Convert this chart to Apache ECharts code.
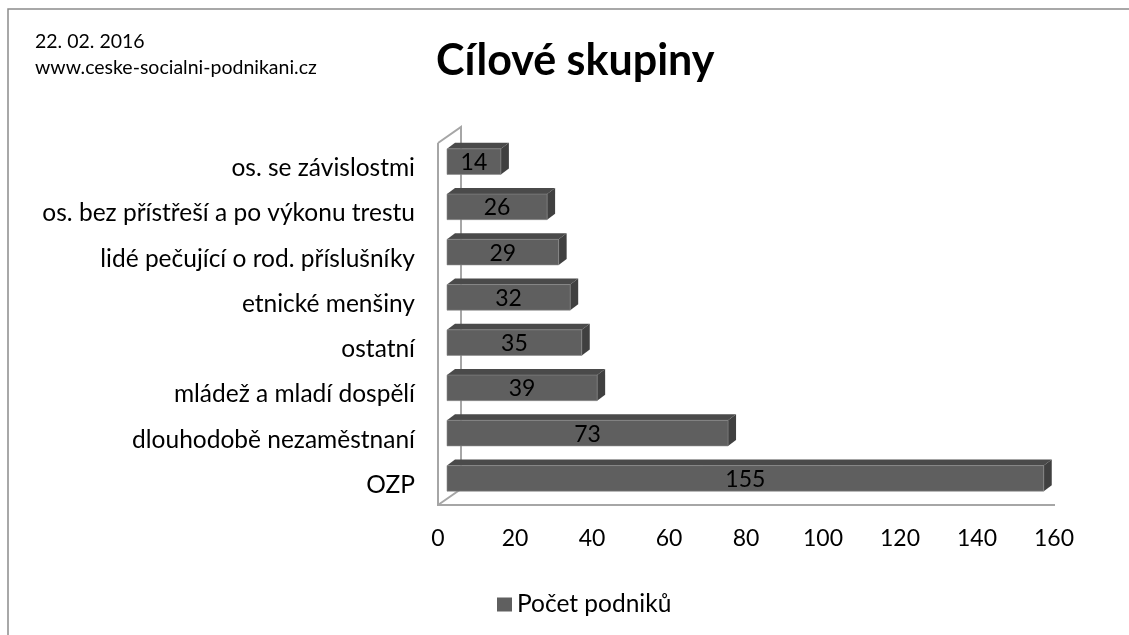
<!DOCTYPE html>
<html>
<head>
<meta charset="utf-8">
<script src="https://cdn.jsdelivr.net/npm/echarts@6/dist/echarts.min.js"></script>
<style>
  html, body { margin: 0; padding: 0; background: #fff; }
  #chart { width: 1129px; height: 635px; }
</style>
</head>
<body>
<div id="chart"></div>
<script>
// data
const categories = [
  "os. se závislostmi",
  "os. bez přístřeší a po výkonu trestu",
  "lidé pečující o rod. příslušníky",
  "etnické menšiny",
  "ostatní",
  "mládež a mladí dospělí",
  "dlouhodobě nezaměstnaní",
  "OZP"
];
const counts = [14, 26, 29, 32, 35, 39, 73, 155];
const xTicks = { min: 0, max: 160, interval: 20 };
const seriesName = "Počet podniků";

const FONT = "Lato, 'Open Sans', sans-serif";
const DX = 8, DY = -6;   // 3d depth of the bars

const chart = echarts.init(document.getElementById("chart"));

function renderWall(params, api) {
  const cs = params.coordSys;
  const x = cs.x, top = cs.y + 4, bot = cs.y + cs.height + 4;
  const wx = 23, wy = -16;
  const style = { stroke: "#a6a6a6", lineWidth: 2, fill: null };
  return {
    type: "group",
    children: [
      { type: "polyline", shape: { points: [[x, top], [x, bot], [x + cs.width + 1, bot]] }, style },
      { type: "polyline", shape: { points: [[x, top], [x + wx, top + wy], [x + wx, bot + wy], [x, bot]] }, style }
    ]
  };
}

function renderBar(params, api) {
  const v = api.value(0), cat = api.value(1);
  const p0 = api.coord([0, cat]);
  const p1 = api.coord([v, cat]);
  const h = api.size([0, 1])[1] * 0.565;
  const x0 = p0[0] + 9, x1 = p1[0] + 9;
  const y0 = p0[1] - h / 2, y1 = y0 + h;
  return {
    type: "group",
    children: [
      { type: "polygon", shape: { points: [[x0, y0], [x0 + DX, y0 + DY], [x1 + DX, y0 + DY], [x1, y0]] },
        style: { fill: "#4a4a4a" } },
      { type: "polygon", shape: { points: [[x1, y0], [x1 + DX, y0 + DY], [x1 + DX, y1 + DY], [x1, y1]] },
        style: { fill: "#404040" } },
      { type: "rect", shape: { x: x0, y: y0, width: x1 - x0, height: h },
        style: { fill: "#5f5f5f", stroke: "#8a8a8a", lineWidth: 0.6 } },
      { type: "text", x: (x0 + x1) / 2, y: (y0 + y1) / 2 + 1,
        style: { text: String(v), fill: "#000", font: "23px " + FONT, align: "center", verticalAlign: "middle" } }
    ]
  };
}

chart.setOption({
  backgroundColor: "#fff",
  animation: false,
  grid: { left: 438, right: 75, top: 139, height: 362 },
  title: {
    text: "Cílové skupiny",
    left: 431, top: 35,
    textStyle: { fontFamily: FONT, fontSize: 43, fontWeight: "bold", color: "#000" }
  },
  graphic: [
    { type: "polyline", shape: { points: [[8, 640], [8, 9], [1130, 9]] }, style: { stroke: "#8c8c8c", lineWidth: 1.5, fill: null } },
    { type: "text", left: 35, top: 32, style: { text: "22. 02. 2016", font: "19.5px " + FONT, fill: "#000" } },
    { type: "text", left: 35, top: 58, style: { text: "www.ceske-socialni-podnikani.cz", font: "19.5px " + FONT, fill: "#000" } }
  ],
  legend: {
    data: [{ name: seriesName, icon: "rect", itemStyle: { color: "#5f5f5f" } }],
    left: 492, top: 587,
    itemWidth: 15, itemHeight: 14, itemGap: 5,
    textStyle: { fontFamily: FONT, fontSize: 24.5, color: "#000" }
  },
  xAxis: {
    type: "value",
    min: xTicks.min, max: xTicks.max, interval: xTicks.interval,
    axisLine: { show: false }, axisTick: { show: false }, splitLine: { show: false },
    axisLabel: { fontFamily: FONT, fontSize: 23, color: "#000", margin: 26 }
  },
  yAxis: {
    type: "category", data: categories, inverse: true,
    axisLine: { show: false }, axisTick: { show: false },
    axisLabel: {
      margin: 23,
      formatter: "{c|{value}}",
      rich: { c: { fontFamily: FONT, fontSize: 24.5, color: "#000", padding: [13, 0, 0, 0] } }
    }
  },
  series: [
    { type: "custom", name: "wall", silent: true, renderItem: renderWall, data: [[0, 0]], z: 1 },
    {
      type: "custom", name: seriesName, renderItem: renderBar, z: 2,
      itemStyle: { color: "#5f5f5f" },
      encode: { x: 0, y: 1 },
      data: counts.map((c, i) => [c, i])
    }
  ]
});
</script>
</body>
</html>
